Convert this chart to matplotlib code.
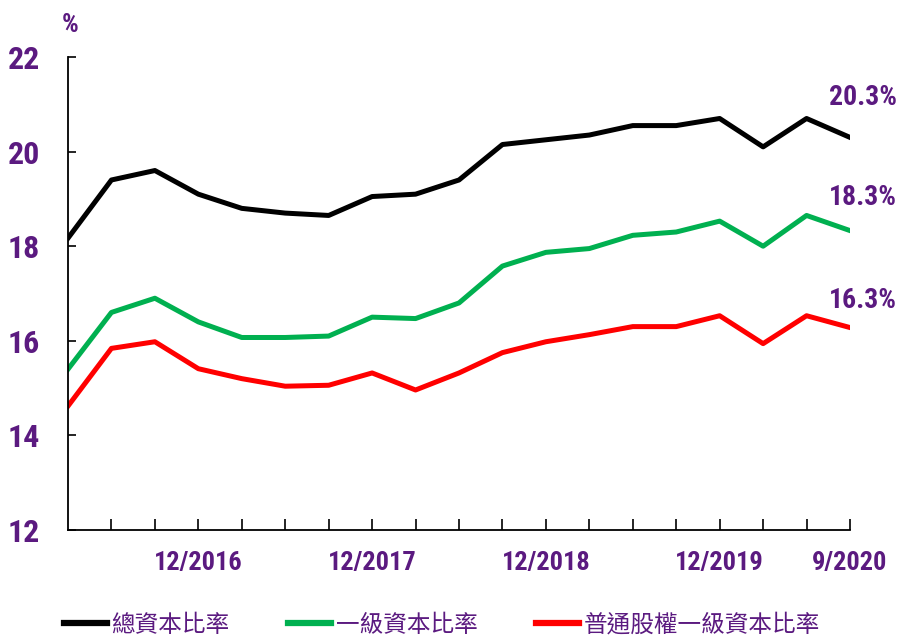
import numpy as np
import matplotlib
matplotlib.use("Agg")
import matplotlib.pyplot as plt

# Datos trimestrales 3/2016 - 9/2020
trimestres = ["3/2016", "6/2016", "9/2016", "12/2016", "3/2017", "6/2017", "9/2017", "12/2017",
              "3/2018", "6/2018", "9/2018", "12/2018", "3/2019", "6/2019", "9/2019", "12/2019",
              "3/2020", "6/2020", "9/2020"]
total = [18.17, 19.4, 19.6, 19.1, 18.8, 18.7, 18.65, 19.05, 19.1, 19.4,
         20.15, 20.25, 20.35, 20.55, 20.55, 20.7, 20.1, 20.7, 20.3]
tier1 = [15.4, 16.6, 16.9, 16.4, 16.07, 16.07, 16.1, 16.5, 16.47, 16.8,
         17.58, 17.87, 17.95, 18.23, 18.3, 18.53, 18.0, 18.65, 18.33]
cet1 = [14.62, 15.84, 15.98, 15.41, 15.2, 15.04, 15.06, 15.32, 14.96, 15.32,
        15.75, 15.98, 16.13, 16.3, 16.3, 16.53, 15.94, 16.53, 16.28]

nombres = ["總資本比率", "一級資本比率", "普通股權一級資本比率"]
colores = ["black", "#00B050", "#FF0000"]
etiquetas_fin = ["20.3%", "18.3%", "16.3%"]
etiquetas_x = ["12/2016", "12/2017", "12/2018", "12/2019", "9/2020"]
yticks = [12, 14, 16, 18, 20, 22]

morado = "#5B1A80"
fuente_num = ["Roboto Condensed", "PT Sans Narrow", "DejaVu Sans"]

fig = plt.figure(figsize=(9.02, 6.42), dpi=100)
ax = fig.add_axes([68/902, 112/642, (850-68)/902, (530-57)/642])

x = np.arange(len(trimestres))
for serie, color, nombre in zip([total, tier1, cet1], colores, nombres):
  ax.plot(x, serie, color=color, lw=3.6, label=nombre, solid_joinstyle="round")

ax.set_xlim(0, len(trimestres)-1)
ax.set_ylim(12, 22)

for s in ["top", "right"]:
  ax.spines[s].set_visible(False)
ax.spines["left"].set_linewidth(1.3)
ax.spines["bottom"].set_linewidth(1.3)

ax.set_xticks(x[1:])
ax.set_xticklabels([])
ax.tick_params(axis="x", direction="in", length=8, width=1.2)
ax.set_yticks(yticks)
ax.set_yticklabels([str(v) for v in yticks], fontsize=23, fontweight="bold",
                   color=morado, family=fuente_num)
ax.tick_params(axis="y", direction="in", length=6, width=1.2, pad=20)

# etiquetas del eje x
for lab in etiquetas_x:
  ax.text(trimestres.index(lab), 11.55, lab, ha="center", va="top", fontsize=19,
          fontweight="bold", color=morado, family=fuente_num)

# valores finales (posición vertical de cada rótulo)
y_rotulos = [21.15, 19.02, 16.86]
for yr, txt in zip(y_rotulos, etiquetas_fin):
  ax.text(1.06, yr, txt, transform=ax.get_yaxis_transform(),
          ha="right", va="center", fontsize=20, fontweight="bold",
          color=morado, family=fuente_num, clip_on=False)

fig.text(70/902, 1-25/642, "%", ha="center", va="center", fontsize=19,
         fontweight="bold", color=morado, family=fuente_num)

leg = fig.legend(loc="center", bbox_to_anchor=(442/902, 17/642), ncol=3, frameon=False,
                 handlelength=1.8, handletextpad=0.2, columnspacing=2.5,
                 prop={"family": ["Noto Sans CJK TC", "DejaVu Sans"], "size": 17})
for t in leg.get_texts():
  t.set_color(morado)
for h in leg.legend_handles:
  h.set_linewidth(4.5)

fig.savefig("out.png", dpi=100)
